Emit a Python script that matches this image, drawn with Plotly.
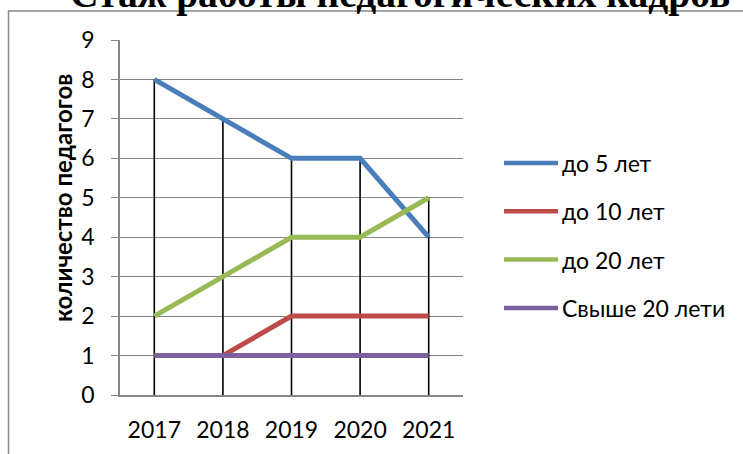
import plotly.graph_objects as go

years = ["2017", "2018", "2019", "2020", "2021"]
series_names = ["до 5 лет", "до 10 лет", "до 20 лет", "Свыше 20 лети"]
s_upto5 = [8, 7, 6, 6, 4]
s_upto10 = [1, 1, 2, 2, 2]
s_upto20 = [2, 3, 4, 4, 5]
s_over20 = [1, 1, 1, 1, 1]
series_values = [s_upto5, s_upto10, s_upto20, s_over20]
colors = ["#4A7EBB", "#BE4B48", "#98B954", "#7D60A0"]
y_ticks = [0, 1, 2, 3, 4, 5, 6, 7, 8, 9]
title_text = "Стаж работы педагогических кадров"
y_title = "количество педагогов"

W, H = 743, 454
# plot area in window pixels
PL, PR, PT, PB = 120, 463, 40, 395
FONT = "Lato"
FS = 23
GRID = "#868686"


def px_x(x):
    return (x - PL) / (PR - PL)


def px_y(y):
    return (PB - y) / (PB - PT)


fig = go.Figure()

# drop lines from highest point to the category axis
tops = [max(v) for v in zip(*series_values)]
dx, dy = [], []
for yr, t in zip(years, tops):
    dx += [yr, yr, None]
    dy += [0, t, None]
fig.add_trace(go.Scatter(x=dx, y=dy, mode="lines",
                         line=dict(color="black", width=1.6),
                         showlegend=False, hoverinfo="skip"))

for name, vals, col in zip(series_names, series_values, colors):
    fig.add_trace(go.Scatter(x=years, y=vals, mode="lines", name=name,
                             line=dict(color=col, width=5),
                             showlegend=False))

shapes = []
annotations = []

# outer chart border (extends beyond the picture)
shapes.append(dict(type="rect", xref="paper", yref="paper",
                   x0=px_x(8.5), x1=px_x(790), y0=px_y(500), y1=px_y(11),
                   line=dict(color="#888888", width=1.5), layer="below"))

# manual legend
for i, (name, col) in enumerate(zip(series_names, colors)):
    yy = 163 + 48.3 * i
    shapes.append(dict(type="line", xref="paper", yref="paper",
                       x0=px_x(504), x1=px_x(558), y0=px_y(yy), y1=px_y(yy),
                       line=dict(color=col, width=4.5)))
    annotations.append(dict(text=name, xref="paper", yref="paper",
                            x=px_x(560), y=px_y(yy), xanchor="left",
                            yanchor="middle", showarrow=False,
                            font=dict(family=FONT, size=FS, color="black")))

# title (cut off at the top in the reference)
annotations.append(dict(text="<b>" + title_text + "</b>", xref="paper", yref="paper",
                        x=px_x(400), y=px_y(18), xanchor="center", yanchor="bottom",
                        showarrow=False,
                        font=dict(family="Liberation Serif", size=39.5, color="black")))

# y axis title
annotations.append(dict(text="<b>" + y_title + "</b>", xref="paper", yref="paper",
                        x=px_x(62), y=px_y(198), xanchor="center", yanchor="middle",
                        textangle=-90, showarrow=False,
                        font=dict(family=FONT, size=24, color="black")))

fig.update_layout(
    width=W, height=H,
    margin=dict(l=PL, r=W - PR, t=PT, b=H - PB, autoexpand=False),
    paper_bgcolor="white", plot_bgcolor="white",
    shapes=shapes, annotations=annotations,
    font=dict(family=FONT, size=FS, color="black"),
    xaxis=dict(type="category", range=[-0.5, 4.5], showgrid=False,
               showline=True, linecolor=GRID, linewidth=1.5, ticks="",
               tickfont=dict(family=FONT, size=FS, color="black"),
               ticklabelstandoff=14, zeroline=False, fixedrange=True,
               automargin=False),
    yaxis=dict(range=[0, 9], tickvals=y_ticks, showgrid=True, gridcolor=GRID,
               gridwidth=1.4, showline=True, linecolor=GRID, linewidth=1.5,
               ticks="outside", ticklen=7, tickcolor=GRID, tickwidth=1.4,
               tickfont=dict(family=FONT, size=FS, color="black"),
               ticklabelstandoff=12, zeroline=False, fixedrange=True,
               automargin=False),
)

fig.write_html("out.html",
               config={"displayModeBar": False},
               post_script="document.body.style.margin='0';"
                           "document.body.style.overflow='hidden';")
